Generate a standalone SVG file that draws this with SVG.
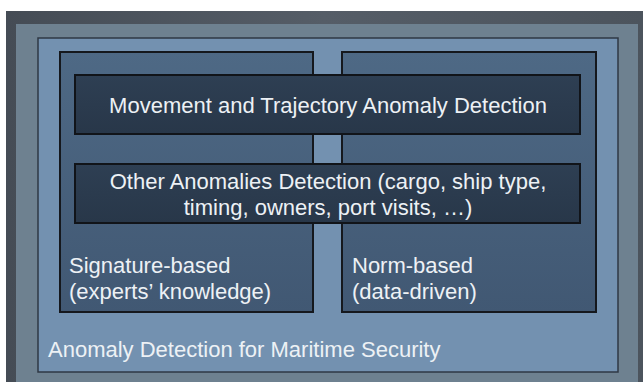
<svg xmlns="http://www.w3.org/2000/svg" width="643" height="382" viewBox="0 0 643 382">
<defs>
<linearGradient id="gOuter" x1="0" y1="0" x2="1" y2="0">
<stop offset="0" stop-color="#454c55"/><stop offset="0.5" stop-color="#555d67"/><stop offset="1" stop-color="#4c545d"/>
</linearGradient>
<linearGradient id="gCol" x1="0" y1="0" x2="0" y2="1">
<stop offset="0" stop-color="#4e6985"/><stop offset="1" stop-color="#415873"/>
</linearGradient>
<linearGradient id="gInner" x1="0" y1="0" x2="0" y2="1">
<stop offset="0" stop-color="#2e3f53"/><stop offset="1" stop-color="#283749"/>
</linearGradient>
</defs>
<style>
.col{fill:url(#gCol);stroke:#15181d;stroke-width:2}
.inner{fill:url(#gInner);stroke:#111419;stroke-width:2}
text{font-family:"Liberation Sans",Arial,sans-serif;fill:#edf1f5}
.big{font-size:22px}
</style>
<rect x="0" y="0" width="643" height="382" fill="#ffffff"/>
<rect x="6" y="11" width="637" height="371" fill="url(#gOuter)"/>
<rect x="16" y="24" width="622" height="358" fill="#6e8190"/>
<g id="frame">
<rect x="38" y="38" width="580" height="334" fill="#7391b0" stroke="#2f3844" stroke-width="1.5"/>
<text x="48" y="357" class="big">Anomaly Detection for Maritime Security</text>
</g>
<g id="signature">
<rect x="60" y="52" width="253" height="260" class="col"/>
<text x="69" y="273" class="big">Signature-based</text>
<text x="69" y="299" class="big">(experts’ knowledge)</text>
</g>
<g id="norm">
<rect x="342" y="52" width="254" height="260" class="col"/>
<text x="352" y="273" class="big">Norm-based</text>
<text x="352" y="299" class="big">(data-driven)</text>
</g>
<g id="movement">
<rect x="75" y="75" width="505" height="59" class="inner"/>
<text x="328" y="113" class="big" text-anchor="middle">Movement and Trajectory Anomaly Detection</text>
</g>
<g id="other">
<rect x="75" y="164" width="505" height="59" class="inner"/>
<text x="328" y="189" class="big" text-anchor="middle">Other Anomalies Detection (cargo, ship type,</text>
<text x="328" y="215" class="big" text-anchor="middle">timing, owners, port visits, …)</text>
</g>
<g id="connectors"></g>
</svg>
